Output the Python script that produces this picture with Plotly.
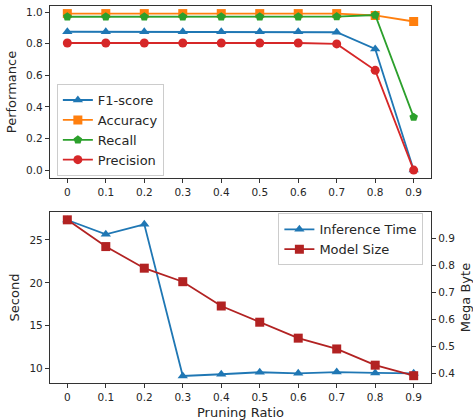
import plotly.graph_objects as go
from plotly.subplots import make_subplots

ratios = [0, 0.1, 0.2, 0.3, 0.4, 0.5, 0.6, 0.7, 0.8, 0.9]
tick_labels = ["0", "0.1", "0.2", "0.3", "0.4", "0.5", "0.6", "0.7", "0.8", "0.9"]

f1 = [0.875, 0.875, 0.875, 0.875, 0.875, 0.875, 0.875, 0.872, 0.766, 0.0]
accuracy = [0.99, 0.99, 0.99, 0.99, 0.99, 0.99, 0.99, 0.99, 0.978, 0.94]
recall = [0.97, 0.97, 0.97, 0.97, 0.97, 0.97, 0.97, 0.971, 0.981, 0.335]
precision = [0.804, 0.804, 0.804, 0.804, 0.804, 0.804, 0.804, 0.798, 0.631, 0.0]

inference_time = [27.33, 25.66, 26.83, 9.15, 9.35, 9.58, 9.46, 9.6, 9.5, 9.46]
model_size = [0.968, 0.869, 0.789, 0.739, 0.649, 0.589, 0.53, 0.49, 0.43, 0.391]

TXT = "#262626"
FONT = "DejaVu Sans"

fig = make_subplots(rows=2, cols=1, specs=[[{}], [{"secondary_y": True}]])

perf = [
    ("F1-score", f1, "#1f77b4", "triangle-up"),
    ("Accuracy", accuracy, "#ff7f0e", "square"),
    ("Recall", recall, "#2ca02c", "pentagon"),
    ("Precision", precision, "#d62728", "circle"),
]
for name, vals, col, sym in perf:
    fig.add_trace(go.Scatter(x=ratios, y=vals, name=name, mode="lines+markers",
                             line=dict(color=col, width=1.8),
                             marker=dict(symbol=sym, size=9, color=col),
                             legend="legend"), row=1, col=1)

fig.add_trace(go.Scatter(x=ratios, y=inference_time, name="Inference Time", mode="lines+markers",
                         line=dict(color="#1f77b4", width=1.8),
                         marker=dict(symbol="triangle-up", size=9, color="#1f77b4"),
                         legend="legend2"), row=2, col=1, secondary_y=False)
fig.add_trace(go.Scatter(x=ratios, y=model_size, name="Model Size", mode="lines+markers",
                         line=dict(color="#b22222", width=1.8),
                         marker=dict(symbol="square", size=9, color="#b22222"),
                         legend="legend2"), row=2, col=1, secondary_y=True)

axis_common = dict(showline=True, linecolor="#333333", linewidth=1.2, ticks="outside",
                   ticklen=4, tickcolor="#333333", showgrid=False, zeroline=False,
                   automargin=False,
                   tickfont=dict(family=FONT, size=10.5, color=TXT))
title_font = dict(family=FONT, size=13, color=TXT)

fig.update_layout(
    width=473, height=420,
    margin=dict(l=50, r=42, t=6, b=37),
    plot_bgcolor="white", paper_bgcolor="white",
    font=dict(family=FONT, color=TXT),
    xaxis=dict(axis_common, domain=[0, 1], range=[-0.045, 0.945], tickvals=ratios,
               ticktext=tick_labels, mirror=True),
    yaxis=dict(axis_common, domain=[0.5438, 1], range=[-0.05, 1.038],
               tickvals=[0, 0.2, 0.4, 0.6, 0.8, 1.0],
               ticktext=["0.0", "0.2", "0.4", "0.6", "0.8", "1.0"], mirror=True,
               title=dict(text="Performance", font=title_font, standoff=6)),
    xaxis2=dict(axis_common, domain=[0, 1], range=[-0.045, 0.945], tickvals=ratios,
                ticktext=tick_labels, mirror=True,
                title=dict(text="Pruning Ratio", font=title_font, standoff=6)),
    yaxis2=dict(axis_common, domain=[0, 0.4536], range=[8.33, 28.26],
                tickvals=[10, 15, 20, 25], mirror=True,
                title=dict(text="Second", font=title_font, standoff=6)),
    yaxis3=dict(axis_common, range=[0.364, 0.997], tickvals=[0.4, 0.5, 0.6, 0.7, 0.8, 0.9],
                side="right", overlaying="y2",
                title=dict(text="Mega Byte", font=title_font, standoff=6)),
    legend=dict(x=0.018, y=0.793, xanchor="left", yanchor="top",
                bordercolor="#cccccc", borderwidth=1, bgcolor="rgba(255,255,255,0.8)",
                font=dict(family=FONT, size=13, color=TXT), tracegroupgap=0, itemwidth=30),
    legend2=dict(x=0.98, y=0.45, xanchor="right", yanchor="top",
                 bordercolor="#cccccc", borderwidth=1, bgcolor="rgba(255,255,255,0.8)",
                 font=dict(family=FONT, size=13, color=TXT), tracegroupgap=0, itemwidth=30),
    showlegend=True,
)

fig.write_html("out.html", config={"displayModeBar": False},
               post_script="document.body.style.margin='0';document.body.style.overflow='hidden';")
